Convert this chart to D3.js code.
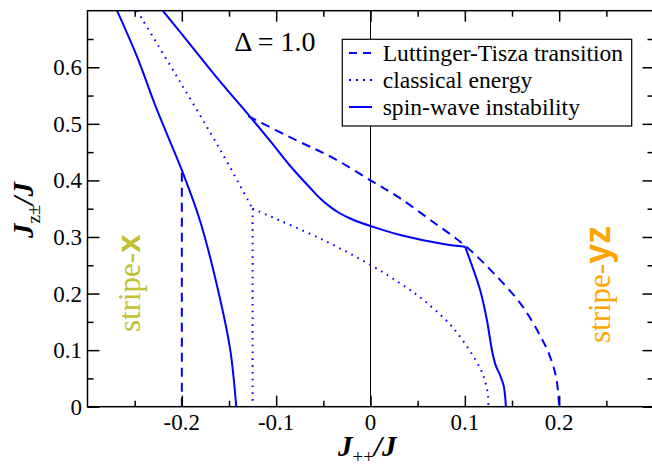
<!DOCTYPE html>
<html><head><meta charset="utf-8">
<script src="https://cdn.jsdelivr.net/npm/d3@7"></script>
<style>body{margin:0;background:#fff}svg{display:block}</style>
</head><body>
<script>
// ---- data ----
const xTicks = [-0.2, -0.1, 0, 0.1, 0.2];
const yTicks = [0, 0.1, 0.2, 0.3, 0.4, 0.5, 0.6];
const xTickLabels = ["-0.2", "-0.1", "0", "0.1", "0.2"];
const yTickLabels = ["0", "0.1", "0.2", "0.3", "0.4", "0.5", "0.6"];
const legendLabels = ["Luttinger-Tisza transition", "classical energy", "spin-wave instability"];

// Luttinger-Tisza transition (dashed)
const ltVertX = [-0.2, -0.2];
const ltVertY = [0, 0.418];
const ltX = [-0.1297, -0.08, -0.04, 0.0, 0.03, 0.066, 0.1, 0.13, 0.16, 0.18, 0.19, 0.197, 0.2];
const ltY = [0.5135, 0.472, 0.44, 0.40, 0.370, 0.327, 0.285, 0.237, 0.180, 0.125, 0.090, 0.050, 0.0];

// classical energy (dotted)
const clUpperX = [-0.2475, -0.205, -0.1592, -0.125];
const clUpperY = [0.70, 0.583, 0.4538, 0.35];
const clVertX = [-0.125, -0.125];
const clVertY = [0.35, 0];
const clLowerX = [-0.125, -0.1097, -0.0501, 0.0, 0.0315, 0.0561, 0.0879, 0.1162, 0.122, 0.1245, 0.125];
const clLowerY = [0.35, 0.339, 0.2947, 0.2505, 0.218, 0.1886, 0.1386, 0.068, 0.042, 0.02, 0.0];

// spin-wave instability (solid)
const swLeftX = [-0.2687, -0.2475, -0.2263, -0.2, -0.1804, -0.1592, -0.1486, -0.1423];
const swLeftY = [0.70, 0.6187, 0.5245, 0.418, 0.327, 0.1886, 0.0996, 0.0];
const swUpperX = [-0.2203, -0.19, -0.16, -0.1276, -0.1064, -0.0851, -0.0639, -0.0533, -0.0427, -0.0321, -0.0215, -0.0109, 0.0, 0.0315, 0.0773, 0.1003];
const swUpperY = [0.70, 0.638, 0.576, 0.5125, 0.4697, 0.4255, 0.3866, 0.368, 0.3533, 0.3415, 0.3327, 0.3256, 0.3194, 0.3035, 0.2876, 0.2828];
const swLowerX = [0.1003, 0.1085, 0.1162, 0.1234, 0.1287, 0.1325, 0.137, 0.1412, 0.1435];
const swLowerY = [0.2828, 0.245, 0.2063, 0.1533, 0.1003, 0.074, 0.057, 0.037, 0.0];

// ---- layout ----
const W = 652, H = 466;
const L = 87.5, T = 10.7, R = 653.5, B = 406.7;
const svg = d3.select("body").append("svg").attr("width", W).attr("height", H);
const x = d3.scaleLinear().domain([-0.3, 0.3]).range([L, R]);
const y = d3.scaleLinear().domain([0, 0.7]).range([B, T]);
const serif = "'Liberation Serif', 'Times New Roman', serif";
const sans = "'Liberation Sans', Arial, sans-serif";
const blue = "#0000ff";

// zero line
svg.append("line").attr("x1", x(0)).attr("x2", x(0)).attr("y1", y(0)).attr("y2", y(0.7))
  .attr("stroke", "#000").attr("stroke-width", 1);

svg.append("clipPath").attr("id", "c").append("rect")
  .attr("x", L).attr("y", T).attr("width", R - L).attr("height", B - T);
const g = svg.append("g").attr("clip-path", "url(#c)");

function curve(xs, ys, dash) {
  const pts = xs.map((v, i) => [v, ys[i]]);
  const line = d3.line().x(d => x(d[0])).y(d => y(d[1])).curve(d3.curveCatmullRom.alpha(0.5));
  const p = g.append("path").attr("d", line(pts)).attr("fill", "none")
    .attr("stroke", blue).attr("stroke-width", 2);
  if (dash) p.attr("stroke-dasharray", dash);
  return p;
}
const DASH = "9,6", DOT = "1.6,5.2";
curve(ltVertX, ltVertY, DASH);
curve(ltX, ltY, DASH);
curve(clUpperX, clUpperY, DOT);
curve(clVertX, clVertY, DOT);
curve(clLowerX, clLowerY, DOT);
curve(swLeftX, swLeftY);
curve(swUpperX, swUpperY);
curve(swLowerX, swLowerY);

// axes (ticks inward on all sides)
const xMinor = d3.range(-0.25, 0.3, 0.1).map(v => +v.toFixed(2));
const yMinor = d3.range(0.05, 0.7, 0.1).map(v => +v.toFixed(2));
function ticks(axisGen, tr) {
  const a = svg.append("g").attr("transform", tr).call(axisGen);
  a.select(".domain").remove();
  a.selectAll("line").attr("stroke", "#000").attr("stroke-width", 1.5);
  return a;
}
ticks(d3.axisTop(x).tickValues(xTicks).tickSize(11).tickFormat(""), `translate(0,${B})`);
ticks(d3.axisTop(x).tickValues(xMinor).tickSize(6).tickFormat(""), `translate(0,${B})`);
ticks(d3.axisBottom(x).tickValues(xTicks).tickSize(11).tickFormat(""), `translate(0,${T})`);
ticks(d3.axisBottom(x).tickValues(xMinor).tickSize(6).tickFormat(""), `translate(0,${T})`);
ticks(d3.axisRight(y).tickValues(yTicks).tickSize(12).tickFormat(""), `translate(${L},0)`);
ticks(d3.axisRight(y).tickValues(yMinor).tickSize(6).tickFormat(""), `translate(${L},0)`);
ticks(d3.axisLeft(y).tickValues(yTicks).tickSize(11).tickFormat(""), `translate(${R},0)`);
ticks(d3.axisLeft(y).tickValues(yMinor).tickSize(6).tickFormat(""), `translate(${R},0)`);

// tick labels
svg.append("g").selectAll("text").data(xTicks).join("text")
  .attr("x", d => x(d)).attr("y", 430).attr("text-anchor", "middle")
  .attr("font-family", serif).attr("font-size", 23).text((d, i) => xTickLabels[i]);
svg.append("g").selectAll("text").data(yTicks).join("text")
  .attr("x", 82).attr("y", d => y(d) + 8).attr("text-anchor", "end")
  .attr("font-family", serif).attr("font-size", 23).text((d, i) => yTickLabels[i]);

// frame
svg.append("rect").attr("x", L).attr("y", T).attr("width", R - L).attr("height", B - T)
  .attr("fill", "none").attr("stroke", "#000").attr("stroke-width", 1.5);

// axis titles
const xt = svg.append("text").attr("x", 338).attr("y", 456)
  .attr("font-family", serif).attr("font-size", 29).attr("font-style", "italic").attr("font-weight", "bold");
xt.append("tspan").text("J");
xt.append("tspan").attr("font-size", 19).attr("font-style", "normal").attr("font-weight", "normal").attr("dy", 7).text("++");
xt.append("tspan").attr("dy", -7).text("/J");

const yt = svg.append("text").attr("transform", "translate(33,238) rotate(-90)")
  .attr("font-family", serif).attr("font-size", 29).attr("font-style", "italic").attr("font-weight", "bold");
yt.append("tspan").text("J");
yt.append("tspan").attr("font-size", 19).attr("font-style", "normal").attr("font-weight", "normal").attr("dy", 7).text("z±");
yt.append("tspan").attr("dy", -7).text("/J");

// Delta label
svg.append("text").attr("x", 275).attr("y", 51).attr("text-anchor", "middle")
  .attr("font-family", serif).attr("font-size", 28).text("Δ = 1.0");

// stripe labels
const sx = svg.append("text").attr("transform", "translate(140,332) rotate(-90)")
  .attr("font-family", serif).attr("font-size", 31).attr("fill", "#c0c030");
sx.append("tspan").text("stripe-");
sx.append("tspan").attr("font-family", sans).attr("font-weight", "bold").attr("font-size", 33).text("x");
const sy = svg.append("text").attr("transform", "translate(610,343) rotate(-90)")
  .attr("font-family", serif).attr("font-size", 31).attr("fill", "#ffa500");
sy.append("tspan").text("stripe-");
sy.append("tspan").attr("font-family", sans).attr("font-weight", "bold").attr("font-size", 36).text("yz");

// legend
const lg = svg.append("g");
lg.append("rect").attr("x", 342.3).attr("y", 39.3).attr("width", 289.4).attr("height", 86.7)
  .attr("fill", "#fff").attr("stroke", "#000").attr("stroke-width", 1.2);
const styles = ["8,6", "2,5", null];
legendLabels.forEach((lab, i) => {
  const yy = 53 + i * 27;
  const ln = lg.append("line").attr("x1", 349).attr("x2", 372).attr("y1", yy).attr("y2", yy)
    .attr("stroke", blue).attr("stroke-width", 2);
  if (styles[i]) ln.attr("stroke-dasharray", styles[i]);
  lg.append("text").attr("x", 382.7).attr("y", yy + 7.5).attr("font-family", serif)
    .attr("font-size", 23.6).text(lab);
});
</script>
</body></html>
